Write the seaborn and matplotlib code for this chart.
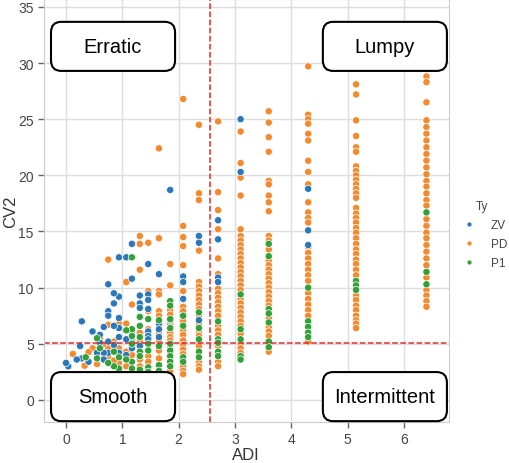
import matplotlib
matplotlib.use("Agg")
import pandas as pd
import matplotlib.pyplot as plt
import seaborn as sns
from matplotlib.patches import FancyBboxPatch

# CV2 values per ADI column, one list per demand type
zv_cols = [
    (4.3, [18.8, 15.1, 13.8]),
    (3.1, [25.0, 20.3]),
    (2.7, [16.0, 14.3, 10.9, 10.5]),
    (2.36, [14.6, 14.0, 7.1]),
    (2.08, [11.0, 10.5, 9.0]),
    (1.85, [18.7, 7.1]),
    (1.65, [11.2, 6.8, 6.3, 5.6]),
    (1.46, [12.1, 9.4, 8.9, 8.1, 6.1, 5.7, 5.4]),
    (1.31, [9.3, 8.6, 8.2, 4.8]),
    (1.17, [13.9, 10.8, 6.1, 5.2, 4.6]),
    (1.07, [12.7, 5.4, 4.0]),
    (0.94, [12.7, 9.2, 7.3, 6.4, 5.6, 4.2]),
    (0.85, [9.5, 8.6, 6.6, 4.9]),
    (0.75, [10.3, 7.9, 7.5, 5.2, 4.2]),
    (0.67, [6.5, 4.2, 3.6]),
    (0.6, [5.8, 5.1]),
    (0.55, [4.2]),
    (0.47, [6.1]),
    (0.4, [3.4]),
    (0.28, [7.0, 3.7]),
    (0.25, [4.8]),
    (0.19, [3.6]),
    (0.04, [3.0]),
    (0.0, [3.3]),
]

pd_cols = [
    (6.4, [28.8, 28.3, 26.5, 24.9, 24.3, 23.7, 23.1, 22.5, 21.9, 21.3, 20.7, 20.1,
           19.5, 19.0, 18.4, 17.8, 17.3, 16.1, 15.5, 14.9, 14.4, 13.8, 13.2, 12.6,
           12.0, 10.9, 9.8, 9.3, 8.8, 8.3]),
    (5.15, [28.1, 27.2, 24.9, 23.5, 22.5, 22.1, 20.8, 20.4, 20.0, 19.6, 19.2, 18.8,
            18.4, 18.0, 17.1, 16.6, 16.2, 15.8, 15.3, 14.9, 14.4, 13.9, 13.4, 13.0,
            12.5, 12.1, 11.6, 11.1, 9.3, 8.9, 8.4, 8.0, 7.5, 7.1, 6.8, 6.4]),
    (4.3, [29.7, 25.4, 25.0, 24.6, 23.7, 23.1, 21.3, 20.3, 19.2, 17.6, 16.7, 16.2,
           15.8, 13.6, 13.1, 12.6, 12.1, 11.6, 11.1, 10.6, 9.5, 9.0, 8.5, 8.0, 7.5, 5.2]),
    (3.6, [25.7, 24.7, 23.4, 22.1, 19.5, 19.2, 18.2, 17.6, 16.8, 14.6, 14.2, 13.4,
           12.4, 12.0, 11.6, 11.2, 10.8, 10.4, 10.0, 9.6, 9.2, 8.8, 8.4, 7.3, 6.5,
           6.1, 5.7, 4.3]),
    (3.1, [23.9, 21.1, 19.8, 18.2, 15.2, 14.6, 14.2, 13.8, 13.4, 13.0, 12.6, 12.2,
           11.8, 11.4, 11.0, 10.6, 10.2, 9.8, 9.0, 8.6, 8.2, 7.8, 7.4, 7.0, 6.6, 5.9,
           5.0, 4.6, 4.2]),
    (2.7, [24.8, 18.5, 16.9, 15.2, 12.6, 11.2, 9.9, 9.5, 9.1, 8.7, 8.3, 7.9, 7.5,
           6.6, 6.2, 5.8, 4.8, 3.4, 3.0]),
    (2.36, [24.5, 18.4, 17.8, 13.3, 10.5, 10.1, 9.7, 9.3, 8.9, 8.5, 8.1, 7.5, 6.8,
            6.0, 5.7, 5.1, 4.8, 3.4, 3.0, 2.7]),
    (2.08, [26.8, 15.5, 14.5, 13.7, 12.0, 9.7, 8.3, 7.9, 7.0, 6.2, 5.8, 5.3, 4.9,
            4.5, 4.1, 3.0, 2.6, 2.3]),
    (1.85, [12.1, 10.2, 8.0, 7.6, 6.8, 6.0, 5.6, 5.3, 4.7, 4.1, 3.6, 2.6]),
    (1.65, [22.4, 14.4, 9.7, 9.4, 7.9, 7.5, 6.0, 5.3, 4.4, 3.7]),
    (1.46, [14.0, 9.7, 7.9, 6.3, 3.9, 3.4]),
    (1.31, [14.6, 13.9, 11.6, 6.0, 5.2, 3.6, 3.0]),
    (1.17, [8.5, 4.0]),
    (1.07, [10.5, 6.8, 4.3, 3.0]),
    (0.94, [6.8, 4.6, 3.3]),
    (0.85, [5.2, 3.5]),
    (0.75, [12.5, 6.7, 4.6, 3.9]),
    (0.67, [5.0]),
    (0.6, [5.5]),
    (0.55, [3.2]),
    (0.47, [4.6]),
    (0.4, [4.25]),
    (0.33, [3.05]),
    (0.12, [4.1]),
]

p1_cols = [
    (6.4, [16.7, 11.4, 10.3]),
    (5.15, [10.6, 10.2, 9.8]),
    (4.3, [10.0, 7.0, 6.5, 6.0, 5.6]),
    (3.6, [13.9, 12.8, 8.1, 7.7, 6.9, 5.2, 4.7]),
    (3.1, [9.4, 6.3, 5.4, 3.9, 3.6]),
    (2.7, [7.0, 5.4, 5.1, 4.3, 3.9]),
    (2.36, [7.8, 6.4, 5.4, 4.3, 3.8]),
    (2.08, [7.5, 6.6, 3.8, 3.4]),
    (1.85, [8.8, 8.4, 7.2, 6.4, 5.0, 4.4, 3.9, 3.4, 3.0]),
    (1.65, [7.1, 4.8, 3.1, 2.6]),
    (1.46, [7.2, 5.0, 4.4, 2.9, 2.5]),
    (1.31, [7.4, 6.6, 5.6, 4.3, 3.9, 2.7]),
    (1.17, [12.7, 6.3, 5.7, 5.0, 3.4, 2.8]),
    (1.07, [6.2, 3.6]),
    (0.94, [3.8, 2.8]),
    (0.85, [4.3, 3.0]),
    (0.75, [3.3]),
    (0.6, [4.6]),
    (0.55, [5.5, 3.7]),
    (0.35, [3.8]),
]

hue_order = ["ZV", "PD", "P1"]
adi_cut = 2.56
cv2_cut = 5.1
quadrants = ["Erratic", "Lumpy", "Smooth", "Intermittent"]

rows = []
for ty, cols in [("PD", pd_cols), ("ZV", zv_cols), ("P1", p1_cols)]:
    for adi, vals in cols:
        for v in vals:
            rows.append((adi, v, ty))
df = pd.DataFrame(rows, columns=["ADI", "CV2", "Ty"])

sns.set_style("whitegrid")
plt.rcParams['font.family'] = ['Liberation Sans Narrow', 'Liberation Sans', 'DejaVu Sans']

fig = plt.figure(figsize=(5.1, 4.64), dpi=100)
ax = fig.add_axes([0.0853, 0.0884, 0.795, 0.9116])

sns.scatterplot(data=df, x="ADI", y="CV2", hue="Ty", hue_order=hue_order,
                palette=["#2b77b8", "#f28a30", "#34a03a"], s=27,
                edgecolor="white", linewidth=0.5, ax=ax)

ax.axvline(adi_cut, color="#e02a2a", linestyle="--", linewidth=1.1)
ax.axhline(cv2_cut, color="#e02a2a", linestyle="--", linewidth=1.1)

ax.set_xlim(-0.4, 6.8)
ax.set_ylim(-1.96, 35.7)
ax.set_xticks(range(0, 7))
ax.set_yticks(range(0, 36, 5))
ax.tick_params(bottom=True, left=True, length=4, width=1, color="#666666",
               labelsize=10, labelcolor="#444444", pad=3)
ax.set_xlabel("ADI", fontsize=12, color="#333333", labelpad=1)
ax.set_ylabel("CV2", fontsize=12, color="#333333", labelpad=0)
ax.grid(color="#dddddd", linewidth=1)

# quadrant boxes (axes fraction)
box_pos = [(0.0185, 0.830), (0.689, 0.830), (0.0185, 0.002), (0.689, 0.002)]
for name, (bx, by) in zip(quadrants, box_pos):
    patch = FancyBboxPatch((bx, by), 0.306, 0.116,
                           boxstyle="round,pad=0,rounding_size=0.025",
                           transform=ax.transAxes, facecolor="white",
                           edgecolor="black", linewidth=1.5, zorder=5, clip_on=False)
    ax.add_patch(patch)
    ax.text(bx + 0.153, by + 0.058, name, transform=ax.transAxes,
            ha="center", va="center", fontsize=14.5, family="Liberation Sans",
            color="black", zorder=6)

leg = ax.legend(title="Ty", loc="upper left", bbox_to_anchor=(0.995, 0.55),
                frameon=False, fontsize=8.5, title_fontsize=8.5, markerscale=0.7,
                handletextpad=0.8, labelspacing=0.6)
for t in leg.get_texts():
    t.set_color("#444444")
leg.get_title().set_color("#444444")

fig.savefig("out.png", dpi=100)
